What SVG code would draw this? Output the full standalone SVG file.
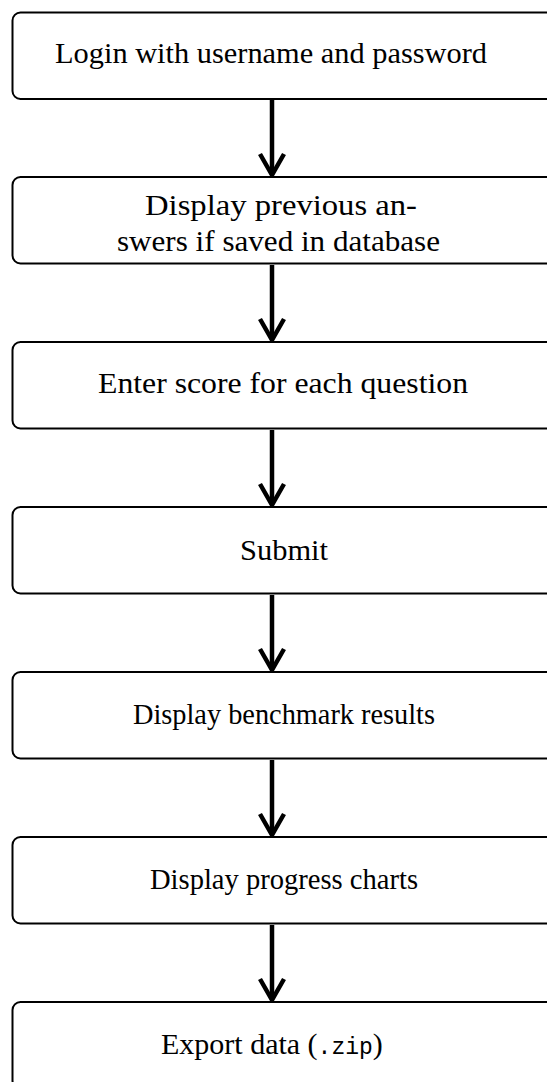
<svg xmlns="http://www.w3.org/2000/svg" width="547" height="1082" viewBox="0 0 547 1082">
<style>
.box{fill:#fff;stroke:#000;stroke-width:2}
.lbl{font-family:"Liberation Serif","Times New Roman",serif;font-size:30px;fill:#000}
.mono{font-family:"Liberation Mono","DejaVu Sans Mono",monospace;font-size:23px}
.edge{fill:none;stroke:#000;stroke-width:4.5}
.head{fill:none;stroke:#000;stroke-width:4.5;stroke-linejoin:miter;stroke-miterlimit:10}
</style>
<defs>
<g id="arrow">
<line class="edge" x1="0" y1="0" x2="0" y2="74"/>
<path class="head" d="M-12,54 L0,75 L12,54"/>
</g>
</defs>
<g id="connectors">
<use href="#arrow" x="272" y="100"/>
<use href="#arrow" x="272" y="265"/>
<use href="#arrow" x="272" y="430"/>
<use href="#arrow" x="272" y="595"/>
<use href="#arrow" x="272" y="760"/>
<use href="#arrow" x="272" y="925"/>
</g>
<g id="n1">
<rect class="box" x="12.5" y="12.5" width="560" height="86.5" rx="8"/>
<text class="lbl" x="55" y="63" textLength="432" lengthAdjust="spacingAndGlyphs">Login with username and password</text>
</g>
<g id="n2">
<rect class="box" x="12.5" y="177" width="560" height="86.5" rx="8"/>
<text class="lbl" x="145" y="215" textLength="272" lengthAdjust="spacingAndGlyphs">Display previous an-</text>
<text class="lbl" x="117" y="251" textLength="323" lengthAdjust="spacingAndGlyphs">swers if saved in database</text>
</g>
<g id="n3">
<rect class="box" x="12.5" y="342" width="560" height="86.5" rx="8"/>
<text class="lbl" x="98" y="393" textLength="370" lengthAdjust="spacingAndGlyphs">Enter score for each question</text>
</g>
<g id="n4">
<rect class="box" x="12.5" y="507" width="560" height="86.5" rx="8"/>
<text class="lbl" x="240" y="560" textLength="88" lengthAdjust="spacingAndGlyphs">Submit</text>
</g>
<g id="n5">
<rect class="box" x="12.5" y="672" width="560" height="86.5" rx="8"/>
<text class="lbl" x="133" y="724" textLength="302" lengthAdjust="spacingAndGlyphs">Display benchmark results</text>
</g>
<g id="n6">
<rect class="box" x="12.5" y="837" width="560" height="86.5" rx="8"/>
<text class="lbl" x="150" y="889" textLength="268" lengthAdjust="spacingAndGlyphs">Display progress charts</text>
</g>
<g id="n7">
<rect class="box" x="12.5" y="1002" width="560" height="86.5" rx="8"/>
<text class="lbl" x="161" y="1054">Export data (<tspan class="mono">.zip</tspan>)</text>
</g>
</svg>
